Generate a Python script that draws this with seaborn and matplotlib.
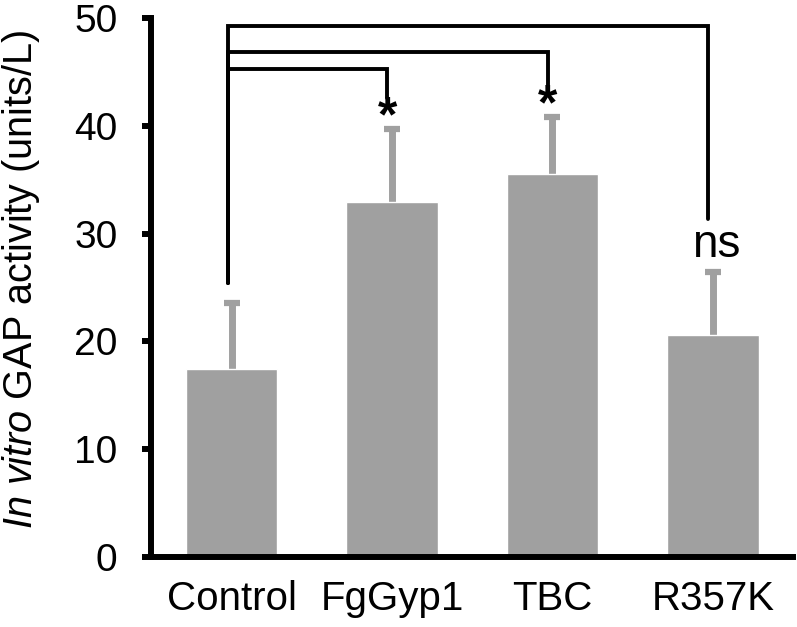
import numpy as np
import pandas as pd
import matplotlib
matplotlib.use("Agg")
import matplotlib.pyplot as plt
import seaborn as sns

# values
groups = ["Control", "FgGyp1", "TBC", "R357K"]
means = [17.4, 32.9, 35.5, 20.6]
err_up = [6.2, 6.8, 5.3, 5.8]

# significance brackets: Control vs group
bracket_to = ["FgGyp1", "TBC", "R357K"]
bracket_top = [45.3, 46.9, 49.3]
bracket_end = [42.6, 43.7, 31.4]
bracket_start = 25.4
bracket_marks = ["*", "*", "ns"]
mark_y = [39.5, 40.6, 27.8]

sns.set_theme(style="white")
plt.rcParams['font.family'] = ['Liberation Sans', 'DejaVu Sans']
plt.rcParams['mathtext.fontset'] = 'custom'
plt.rcParams['mathtext.rm'] = 'Liberation Sans'
plt.rcParams['mathtext.it'] = 'Liberation Sans:italic'
for key in ['text.color', 'axes.labelcolor', 'xtick.color', 'ytick.color']:
    plt.rcParams[key] = 'black'

df = pd.DataFrame({"group": groups, "value": means})

fig = plt.figure(figsize=(7.97, 6.27), dpi=100)
ax = fig.add_axes([0.190, 0.112, 0.805, 0.859])

bar_col = "#a0a0a0"
sns.barplot(data=df, x="group", y="value", color=bar_col, saturation=1,
            width=0.57, errorbar=None, ax=ax, zorder=2)

# upper-only error bars
xpos = np.arange(len(groups))
eb = ax.errorbar(xpos, means, yerr=[np.zeros(len(means)), err_up], fmt="none",
                 ecolor=bar_col, elinewidth=5, capsize=5.5, capthick=4.5, zorder=1)
eb[1][0].set_visible(False)

# brackets
lw = 2.8
x0 = xpos[0] - 0.02
for name, top, end, mark, my in zip(bracket_to, bracket_top, bracket_end,
                                    bracket_marks, mark_y):
    x1 = groups.index(name) - 0.03
    ax.plot([x0, x0, x1, x1], [bracket_start, top, top, end],
            color="black", lw=lw, solid_joinstyle="miter", zorder=3)
    if mark == "ns":
        ax.text(x1 + 0.05, my, mark, ha="center", va="baseline", fontsize=33)
    else:
        ax.text(x1, my, mark, ha="center", va="baseline", fontsize=36,
                fontweight="bold")

ax.set_xlim(-0.5, 3.5)
ax.set_ylim(0, 50)
ax.set_yticks([0, 10, 20, 30, 40, 50])
ax.set_xlabel("")
ax.set_ylabel(r"$\it{In\ vitro}$ GAP activity (units/L)", fontsize=28.5)
ax.yaxis.set_label_coords(-0.170, 0.515)

for side in ["top", "right"]:
    ax.spines[side].set_visible(False)
for side in ["left", "bottom"]:
    ax.spines[side].set_linewidth(4.3)
    ax.spines[side].set_color("black")

ax.tick_params(axis="y", direction="out", length=6.5, width=4.3,
               color="black", labelcolor="black", labelsize=28, pad=18, left=True)
ax.tick_params(axis="x", length=0, labelcolor="black", labelsize=29, pad=17)

fig.savefig("out.png", dpi=100)
